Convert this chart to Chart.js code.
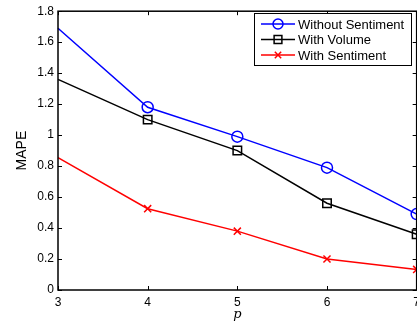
<!DOCTYPE html>
<html>
<head>
<meta charset="utf-8">
<script src="https://cdn.jsdelivr.net/npm/chart.js@4"></script>
<style>
  html, body { margin: 0; padding: 0; background: #fff; overflow: hidden; }
  #wrap { width: 425px; height: 322px; }
</style>
</head>
<body>
<div id="wrap"><canvas id="mapeChart"></canvas></div>
<script>
const pValues = [3, 4, 5, 6, 7];
const withoutSentiment = [1.69, 1.18, 0.99, 0.79, 0.49];
const withVolume = [1.36, 1.10, 0.90, 0.56, 0.36];
const withSentiment = [0.855, 0.525, 0.38, 0.20, 0.133];
const seriesNames = ['Without Sentiment', 'With Volume', 'With Sentiment'];

function toPoints(vals) {
    return pValues.map(function (p, i) { return { x: p, y: vals[i] }; });
}

// no marker drawn on the first point (p = 3)
function markerSizes(r) {
    return pValues.map(function (p, i) { return i === 0 ? 0 : r; });
}

// box frame + inward ticks on all four sides, matlab style
const boxPlugin = {
    id: 'boxFrame',
    afterDraw: function (chart) {
        const ctx = chart.ctx;
        const a = chart.chartArea;
        const xs = chart.scales.x;
        const ys = chart.scales.y;
        const len = 4;
        ctx.save();
        ctx.strokeStyle = '#000';
        ctx.lineWidth = 1;
        ctx.beginPath();
        xs.ticks.forEach(function (t) {
            const px = Math.round(xs.getPixelForValue(t.value)) + 0.5;
            ctx.moveTo(px, a.bottom); ctx.lineTo(px, a.bottom - len);
            ctx.moveTo(px, a.top); ctx.lineTo(px, a.top + len);
        });
        ys.ticks.forEach(function (t) {
            const py = Math.round(ys.getPixelForValue(t.value)) + 0.5;
            ctx.moveTo(a.left, py); ctx.lineTo(a.left + len, py);
            ctx.moveTo(a.right, py); ctx.lineTo(a.right - len, py);
        });
        ctx.stroke();
        ctx.lineWidth = 1.5;
        ctx.strokeRect(a.left, a.top, a.right - a.left, a.bottom - a.top);

        // legend
        const lx = 254, ly = 13, lw = 157, lh = 52;
        ctx.fillStyle = '#fff';
        ctx.fillRect(lx, ly, lw, lh);
        ctx.lineWidth = 1;
        ctx.strokeRect(lx + 0.5, ly + 0.5, lw, lh);
        ctx.font = '13px "Liberation Sans", Arial, sans-serif';
        ctx.textBaseline = 'middle';
        chart.data.datasets.forEach(function (ds, i) {
            const y = ly + 11 + i * 15.5;
            ctx.strokeStyle = ds.borderColor;
            ctx.lineWidth = 1.5;
            ctx.beginPath();
            ctx.moveTo(lx + 7, y); ctx.lineTo(lx + 41, y);
            ctx.stroke();
            ctx.fillStyle = 'rgba(0,0,0,0)';
            Chart.helpers.drawPoint(ctx, {
                pointStyle: ds.pointStyle,
                radius: ds.pointRadius[1] - 0.5,
                borderWidth: 1.5
            }, lx + 24, y);
            ctx.fillStyle = '#000';
            ctx.fillText(ds.label, lx + 44, y + 1);
        });
        ctx.restore();
    }
};

const ctxMape = document.getElementById('mapeChart').getContext('2d');
Chart.defaults.font.family = '"Liberation Sans", Arial, sans-serif';
Chart.defaults.color = '#000';

new Chart(ctxMape, {
    type: 'line',
    data: {
        datasets: [
            {
                label: seriesNames[0],
                data: toPoints(withoutSentiment),
                borderColor: '#0000ff',
                backgroundColor: 'rgba(0,0,0,0)',
                pointStyle: 'circle',
                pointRadius: markerSizes(5.5),
                pointBorderWidth: 1.5,
                borderWidth: 1.5,
                tension: 0
            },
            {
                label: seriesNames[1],
                data: toPoints(withVolume),
                borderColor: '#000000',
                backgroundColor: 'rgba(0,0,0,0)',
                pointStyle: 'rect',
                pointRadius: markerSizes(6),
                pointBorderWidth: 1.5,
                borderWidth: 1.5,
                tension: 0
            },
            {
                label: seriesNames[2],
                data: toPoints(withSentiment),
                borderColor: '#ff0000',
                backgroundColor: 'rgba(0,0,0,0)',
                pointStyle: 'crossRot',
                pointRadius: markerSizes(5),
                pointBorderWidth: 1.5,
                borderWidth: 1.5,
                tension: 0
            }
        ]
    },
    options: {
        responsive: true,
        maintainAspectRatio: false,
        animation: false,
        clip: false,
        layout: {
            autoPadding: false,
            padding: { top: 8, right: 1, left: 0, bottom: 0 }
        },
        scales: {
            x: {
                type: 'linear',
                min: 3,
                max: 7,
                ticks: { stepSize: 1, padding: 5, font: { size: 12 } },
                grid: { display: false, drawTicks: false },
                border: { display: false },
                title: {
                    display: true,
                    text: 'p',
                    font: { family: '"DejaVu Serif", serif', style: 'italic', size: 13 },
                    padding: { top: 0, bottom: 0 }
                },
                afterFit: function (scale) { scale.height = 32; }
            },
            y: {
                min: 0,
                max: 1.8,
                ticks: {
                    stepSize: 0.2,
                    padding: 4,
                    font: { size: 12 },
                    callback: function (v) { return String(Math.round(v * 10) / 10); }
                },
                grid: { display: false, drawTicks: false },
                border: { display: false },
                title: {
                    display: true,
                    text: 'MAPE',
                    font: { size: 14 },
                    padding: { top: 14, bottom: 0 }
                },
                afterFit: function (scale) { scale.width = 58; }
            }
        },
        plugins: {
            legend: { display: false },
            tooltip: { enabled: false }
        }
    },
    plugins: [boxPlugin]
});
</script>
</body>
</html>
